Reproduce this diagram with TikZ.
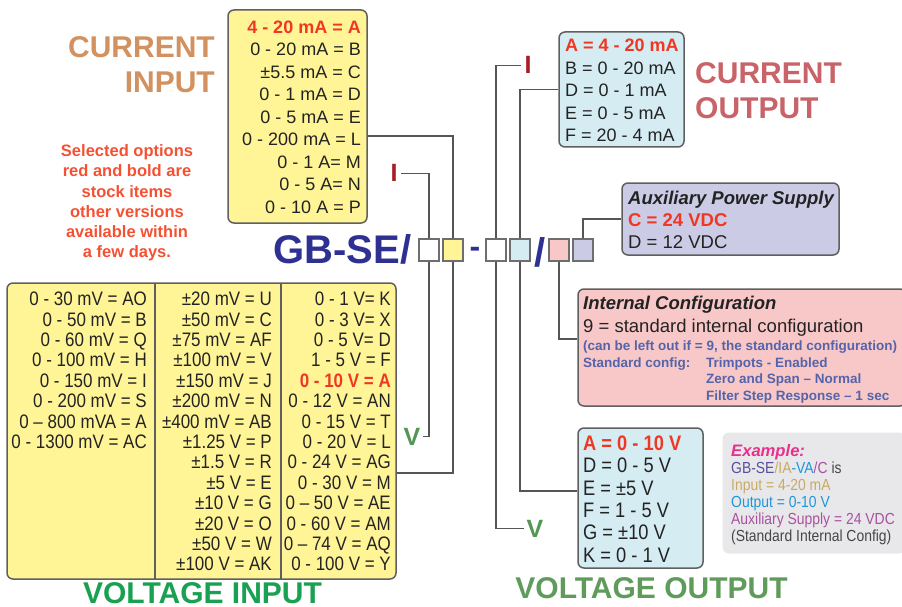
\documentclass[tikz,border=0pt]{standalone}
\usepackage{fontspec}
\setmainfont{Liberation Sans}
\newfontfamily\narrowfont[FakeStretch=0.87]{Liberation Sans}
\usetikzlibrary{calc}

\definecolor{inyellow}{RGB}{255,245,150}
\definecolor{outblue}{RGB}{213,236,243}
\definecolor{cfgpink}{RGB}{248,200,200}
\definecolor{auxlav}{RGB}{204,203,230}
\definecolor{exgray}{RGB}{232,232,234}
\definecolor{boxgray}{RGB}{95,95,95}
\definecolor{sqgray}{RGB}{110,110,110}
\definecolor{linkgray}{RGB}{85,85,85}
\definecolor{txtdark}{RGB}{35,35,35}
\definecolor{selred}{RGB}{240,55,35}
\definecolor{notered}{RGB}{245,80,50}
\definecolor{cintitle}{RGB}{210,145,95}
\definecolor{couttitle}{RGB}{200,100,105}
\definecolor{vintitle}{RGB}{25,160,80}
\definecolor{vouttitle}{RGB}{95,155,90}
\definecolor{gbblue}{RGB}{46,49,146}
\definecolor{ired}{RGB}{165,30,40}
\definecolor{vgreen}{RGB}{85,150,85}
\definecolor{cfgblue}{RGB}{85,100,170}
\definecolor{exmagenta}{RGB}{232,48,140}
\definecolor{exindigo}{RGB}{85,80,160}
\definecolor{extan}{RGB}{200,170,100}
\definecolor{exblue}{RGB}{30,150,220}
\definecolor{expurple}{RGB}{170,80,160}
\definecolor{exdark}{RGB}{70,70,70}

\newcommand{\sel}[1]{{\color{selred}\bfseries #1}}

\begin{document}
\begin{tikzpicture}[x=1pt,y=-1pt,
		optbox/.style={draw=boxgray,line width=1.5pt,rounded corners=6pt,inner sep=0pt},
		codebox/.style={draw=sqgray,line width=1.3pt,minimum width=20pt,minimum height=22pt,inner sep=0pt},
		link/.style={draw=linkgray,line width=1.5pt},
		listtext/.style={inner sep=0pt,text=txtdark,font=\fontsize{18}{22.5}\selectfont},
		vicol/.style={align=right,inner sep=0pt,text=txtdark,font=\narrowfont\fontsize{19.5}{20.4}\selectfont},
		title/.style={font=\bfseries\fontsize{30}{35}\selectfont,inner sep=0pt},
		ilabel/.style={text=ired,font=\bfseries\fontsize{25}{25}\selectfont,inner sep=3pt,anchor=base},
		vlabel/.style={text=vgreen,font=\bfseries\fontsize{25}{25}\selectfont,inner sep=2pt,anchor=base},
		cfgtext/.style={anchor=base west,inner sep=0pt,text=cfgblue,font=\bfseries\fontsize{13.5}{16}\selectfont}]
		\useasboundingbox (0,0) rectangle (902,607);
		
		% code squares
		\node[codebox,fill=white] (sqA) at (429,250) {};
		\node[codebox,fill=inyellow] (sqB) at (453,250) {};
		\node[codebox,fill=white] (sqC) at (496,250) {};
		\node[codebox,fill=outblue] (sqD) at (520,250) {};
		\node[codebox,fill=cfgpink] (sqE) at (559,250) {};
		\node[codebox,fill=auxlav] (sqF) at (583,250) {};
		\node[anchor=base,inner sep=0pt,text=gbblue,font=\bfseries\fontsize{40}{40}\selectfont] (gbse) at (342.5,263) {GB-SE/};
		\node[anchor=base,inner sep=0pt,text=gbblue,font=\bfseries\fontsize{32}{32}\selectfont] (dashsym) at (475,257) {-};
		\node[anchor=base,inner sep=0pt,text=gbblue,font=\bfseries\fontsize{40}{40}\selectfont] (slashsym) at (540.5,266) {/};
		
		% current input
		\node[optbox,fill=inyellow,minimum width=139pt,minimum height=213pt] (cin) at (297.5,116.5) {};
		\node[listtext,align=right,anchor=east] (cinlist) at (361,117)
			{\sel{4 - 20 mA = A}\\0 - 20 mA = B\\±5.5 mA = C\\0 - 1 mA = D\\0 - 5 mA = E\\0 - 200 mA = L\\0 - 1 A= M\\0 - 5 A= N\\0 - 10 A = P};
		\node[title,text=cintitle,align=right,anchor=east] (cintitletext) at (215,64.5) {CURRENT\\INPUT};
		\node[align=center,inner sep=0pt,text=notered,font=\bfseries\fontsize{16.5}{20.2}\selectfont] (stocknote) at (127,203)
			{Selected options\\red and bold are\\stock items\\other versions\\available within\\a few days.};
		
		% current output
		\node[optbox,fill=outblue,minimum width=125pt,minimum height=115pt] (cout) at (621.5,89.5) {};
		\node[listtext,align=left,anchor=west] (coutlist) at (565,90.5)
			{\sel{A = 4 - 20 mA}\\B = 0 - 20 mA\\D = 0 - 1 mA\\E = 0 - 5 mA\\F = 20 - 4 mA};
		\node[title,text=couttitle,align=left,anchor=west] (couttitletext) at (695,90.5) {CURRENT\\OUTPUT};
		
		% auxiliary supply
		\node[optbox,fill=auxlav,minimum width=217pt,minimum height=72pt] (aux) at (730.5,219) {};
		\node[inner sep=0pt,align=left,anchor=west,text=txtdark,font=\fontsize{18.5}{22}\selectfont] (auxlist) at (628,220)
			{{\bfseries\itshape Auxiliary Power Supply}\\\sel{C = 24 VDC}\\D = 12 VDC};
		
		% internal configuration
		\node[optbox,fill=cfgpink,minimum width=328pt,minimum height=117pt] (icfg) at (742,347.5) {};
		\node[anchor=base west,inner sep=0pt,text=txtdark,font=\bfseries\itshape\fontsize{18.5}{22}\selectfont] (ictitle) at (583,309.6) {Internal Configuration};
		\node[anchor=base west,inner sep=0pt,text=txtdark,font=\fontsize{18.5}{22}\selectfont] (icstd) at (583,332.6) {9 = standard internal configuration};
		\node[cfgtext] (icnote) at (583,350) {(can be left out if = 9, the standard configuration)};
		\node[cfgtext] (icsetA) at (583,367) {Standard config:};
		\node[cfgtext] (icsetB) at (706,367) {Trimpots - Enabled};
		\node[cfgtext] (icsetC) at (706,383.5) {Zero and Span – Normal};
		\node[cfgtext] (icsetD) at (706,400) {Filter Step Response – 1 sec};
		
		% voltage input
		\node[optbox,fill=inyellow,minimum width=389pt,minimum height=296pt] (vin) at (201.5,431) {};
		\draw[draw=boxgray,line width=1.5pt] (155,283) -- (155,579);
		\draw[draw=boxgray,line width=1.5pt] (281,283) -- (281,579);
		\node[vicol,anchor=east] (vcolA) at (147,370.4)
			{0 - 30 mV = AO\\0 - 50 mV = B\\0 - 60 mV = Q\\0 - 100 mV = H\\0 - 150 mV = I\\0 - 200 mV = S\\0 – 800 mVA = A\\0 - 1300 mV = AC};
		\node[vicol,anchor=east] (vcolB) at (272,431.6)
			{±20 mV = U\\±50 mV = C\\±75 mV = AF\\±100 mV = V\\±150 mV = J\\±200 mV = N\\±400 mV = AB\\±1.25 V = P\\±1.5 V = R\\±5 V = E\\±10 V = G\\±20 V = O\\±50 V = W\\±100 V = AK};
		\node[vicol,anchor=east] (vcolC) at (391,431.6)
			{0 - 1 V= K\\0 - 3 V= X\\0 - 5 V= D\\1 - 5 V = F\\\sel{0 - 10 V = A}\\0 - 12 V = AN\\0 - 15 V = T\\0 - 20 V = L\\0 - 24 V = AG\\0 - 30 V = M\\0 – 50 V = AE\\0 - 60 V = AM\\0 – 74 V = AQ\\0 - 100 V = Y};
		\node[title,text=vintitle,anchor=base] (vintitletext) at (202.5,603) {VOLTAGE INPUT};
		
		% voltage output
		\node[optbox,fill=outblue,minimum width=125pt,minimum height=140pt] (vout) at (640.5,498) {};
		\node[inner sep=0pt,align=left,anchor=west,text=txtdark,font=\narrowfont\fontsize{21}{22.4}\selectfont] (voutlist) at (583,499)
			{\sel{A = 0 - 10 V}\\D = 0 - 5 V\\E = ±5 V\\F = 1 - 5 V\\G = ±10 V\\K = 0 - 1 V};
		\node[title,text=vouttitle,anchor=base] (vouttitletext) at (651.5,598.5) {VOLTAGE OUTPUT};
		
		% example
		\node[draw=exgray!85!black!40,fill=exgray,line width=1pt,rounded corners=6pt,minimum width=182pt,minimum height=120pt] (exbox) at (814,493) {};
		\node[anchor=base west,inner sep=0pt,text=exmagenta,font=\bfseries\itshape\fontsize{16.6}{18}\selectfont] (extitle) at (731,456) {Example:};
		\node[anchor=west,align=left,inner sep=0pt,font=\narrowfont\fontsize{16}{17}\selectfont] (exbody) at (731,503.5)
			{{\color{exindigo}GB-SE}{\color{extan}/IA}{\color{exblue}-VA}{\color{expurple}/C}\ {\color{exdark}is}\\
			{\color{extan}Input = 4-20 mA}\\{\color{exblue}Output = 0-10 V}\\{\color{expurple}Auxiliary Supply = 24 VDC}\\{\color{exdark}(Standard Internal Config)}};
		
		% I and V labels
		\node[ilabel] (ilabA) at (394,182) {I};
		\node[vlabel] (vlabA) at (412,445) {V};
		\node[ilabel] (ilabB) at (528,74) {I};
		\node[vlabel] (vlabB) at (535,537) {V};
		
		\draw[link] (sqA.north) |- (ilabA.east);
		\draw[link] (sqA.south) |- (vlabA.east);
		\draw[link] (sqB.north) |- ([yshift=-19.5pt]cin.east);
		\draw[link] (sqB.south) |- ([yshift=-42pt]vin.east);
		\draw[link] (sqC.north) |- (ilabB.west);
		\draw[link] (sqC.south) |- (vlabB.west);
		\draw[link] (sqD.north) |- (cout.west);
		\draw[link] (sqD.south) |- ([yshift=7pt]vout.west);
		\draw[link] (sqE.south) |- ([yshift=8.5pt]icfg.west);
		\draw[link] (sqF.north) |- (aux.west);
	\end{tikzpicture}
\end{document}
